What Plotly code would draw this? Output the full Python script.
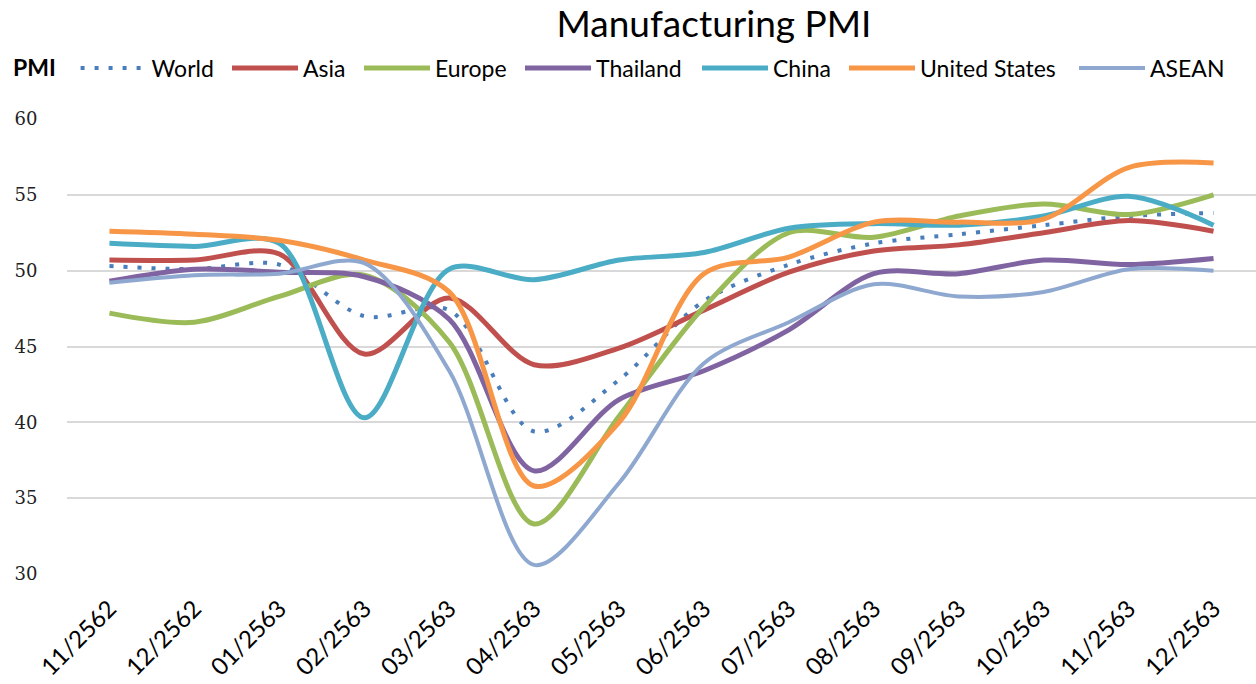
import plotly.graph_objects as go

months = ["11/2562", "12/2562", "01/2563", "02/2563", "03/2563", "04/2563", "05/2563",
          "06/2563", "07/2563", "08/2563", "09/2563", "10/2563", "11/2563", "12/2563"]

world = [50.3, 50.1, 50.4, 47.0, 47.4, 39.4, 42.8, 48.0, 50.4, 51.8, 52.4, 53.0, 53.6, 53.8]
asia = [50.7, 50.7, 51.1, 44.5, 48.2, 43.8, 44.9, 47.4, 49.9, 51.3, 51.7, 52.5, 53.3, 52.6]
europe = [47.2, 46.6, 48.3, 49.7, 45.3, 33.3, 40.4, 47.6, 52.5, 52.2, 53.6, 54.4, 53.7, 55.0]
thailand = [49.3, 50.1, 49.9, 49.6, 46.8, 36.8, 41.5, 43.4, 46.1, 49.8, 49.8, 50.7, 50.4, 50.8]
china = [51.8, 51.6, 51.8, 40.3, 50.1, 49.4, 50.7, 51.2, 52.8, 53.1, 53.0, 53.6, 54.9, 53.0]
us = [52.6, 52.4, 52.0, 50.7, 48.6, 35.8, 40.0, 49.8, 50.9, 53.2, 53.2, 53.4, 56.8, 57.1]
asean = [49.2, 49.7, 49.8, 50.5, 43.4, 30.6, 36.0, 43.9, 46.6, 49.1, 48.3, 48.6, 50.1, 50.0]

# name, values, colour, width, dash, legend text start (px)
series = [
    ("World", world, "#4A7EBB", 4, "4px,10px", 153),
    ("Asia", asia, "#C0504D", 5, "solid", 303),
    ("Europe", europe, "#9BBB59", 5, "solid", 435),
    ("Thailand", thailand, "#8064A2", 5, "solid", 596),
    ("China", china, "#4BACC6", 5, "solid", 773),
    ("United States", us, "#F79646", 5, "solid", 920),
    ("ASEAN", asean, "#8EA8D0", 4, "solid", 1150),
]

W, H = 1256, 684
fig = go.Figure()
legend_layout = {}
for i, (name, vals, color, w, dash, tx) in enumerate(series):
    key = "legend" if i == 0 else f"legend{i+1}"
    fig.add_trace(go.Scatter(
        x=months, y=vals, name=name, mode="lines", legend=key,
        line=dict(color=color, width=w, dash=dash, shape="spline", smoothing=0.9),
    ))
    leg = dict(orientation="h", xref="container", yref="container",
               x=(tx - 76) / W, xanchor="left", y=1 - 68 / H, yanchor="middle",
               font=dict(family="Lato", size=23, color="black"),
               itemwidth=66, bgcolor="rgba(0,0,0,0)")
    if i == 0:
        leg["title"] = dict(text="<b>PMI</b>&nbsp;&nbsp;",
                            font=dict(family="Lato", size=23, color="black"))
        leg["x"] = 11 / W
    legend_layout[key] = leg

fig.update_layout(
    width=W, height=H,
    paper_bgcolor="white", plot_bgcolor="white",
    margin=dict(l=67, r=0, t=119, b=110, autoexpand=False),
    title=dict(text="Manufacturing PMI", x=714 / W, xanchor="center", xref="container",
               y=1 - 24 / H, yanchor="middle", yref="container",
               font=dict(family="Lato", size=37, color="black")),
    showlegend=True,
    **legend_layout,
)

fig.update_xaxes(
    type="category", range=[-0.5, len(months) - 0.5], tickangle=-45,
    showgrid=False, showline=False, ticks="outside", ticklen=10, tickcolor="rgba(0,0,0,0)",
    tickfont=dict(family="Lato", size=24, color="black"), automargin=False,
)
fig.update_yaxes(
    range=[30, 60], dtick=5, showgrid=True, gridcolor="#D9D9D9", gridwidth=1.5,
    zeroline=False, showline=False, ticks="outside", ticklen=25, tickcolor="rgba(0,0,0,0)",
    automargin=False,
    tickfont=dict(family="DejaVu Serif", size=18, color="#222"),
)

fig.write_html("out.html", config={"displayModeBar": False},
               post_script="document.body.style.margin='0';")
